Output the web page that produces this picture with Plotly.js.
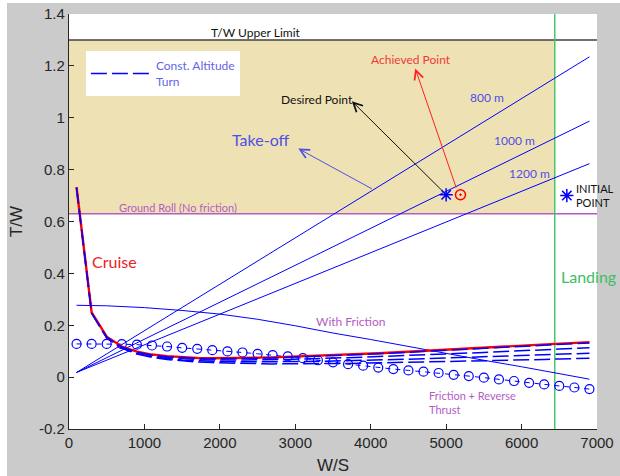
<!DOCTYPE html>
<html>
<head>
<meta charset="utf-8">
<script src="https://cdn.plot.ly/plotly-3.0.1.min.js"></script>
<style>
  html, body { margin: 0; padding: 0; background: #ffffff; overflow: hidden; }
  #chart { position: absolute; left: 7px; top: 3px; width: 613px; height: 473px; }
</style>
</head>
<body>
<div id="chart"></div>
<script>
// Wing loading grid shared by the cruise, turn and landing-roll curves
const wsGrid = [100, 300, 500, 700, 900, 1100, 1300, 1500, 1700, 1900, 2100, 2300, 2500, 2700, 2900,
  3100, 3300, 3500, 3700, 3900, 4100, 4300, 4500, 4700, 4900, 5100, 5300, 5500, 5700, 5900,
  6100, 6300, 6500, 6700, 6900];

// Cruise constraint
const cruiseTW = [0.732, 0.250, 0.156, 0.118, 0.098, 0.087, 0.081, 0.077, 0.074, 0.073, 0.073, 0.074,
  0.075, 0.076, 0.078, 0.080, 0.082, 0.085, 0.087, 0.090, 0.092, 0.095, 0.098, 0.101, 0.104, 0.107,
  0.110, 0.113, 0.116, 0.119, 0.122, 0.125, 0.129, 0.132, 0.135];

// Constant altitude turn, one curve per load factor
const turnTW1 = [0.730, 0.247, 0.154, 0.116, 0.096, 0.085, 0.079, 0.075, 0.072, 0.071, 0.071, 0.072,
  0.073, 0.074, 0.076, 0.078, 0.080, 0.083, 0.085, 0.088, 0.090, 0.093, 0.096, 0.099, 0.102, 0.105,
  0.108, 0.111, 0.114, 0.117, 0.120, 0.123, 0.126, 0.129, 0.132];
const turnTW2 = [0.731, 0.248, 0.153, 0.115, 0.095, 0.083, 0.076, 0.071, 0.068, 0.067, 0.066, 0.066,
  0.067, 0.067, 0.068, 0.070, 0.071, 0.073, 0.075, 0.077, 0.079, 0.081, 0.083, 0.086, 0.088, 0.090,
  0.093, 0.095, 0.098, 0.100, 0.103, 0.106, 0.108, 0.111, 0.113];
const turnTW3 = [0.731, 0.247, 0.152, 0.113, 0.092, 0.079, 0.072, 0.066, 0.063, 0.061, 0.060, 0.059,
  0.059, 0.059, 0.059, 0.060, 0.061, 0.062, 0.063, 0.065, 0.066, 0.068, 0.069, 0.071, 0.073, 0.075,
  0.076, 0.078, 0.080, 0.082, 0.084, 0.086, 0.088, 0.090, 0.092];
const turnTW4 = [0.731, 0.246, 0.151, 0.111, 0.089, 0.076, 0.068, 0.062, 0.058, 0.056, 0.054, 0.052,
  0.052, 0.051, 0.051, 0.051, 0.052, 0.052, 0.053, 0.054, 0.055, 0.056, 0.057, 0.058, 0.059, 0.060,
  0.062, 0.063, 0.064, 0.065, 0.067, 0.068, 0.070, 0.071, 0.073];

// Landing roll with friction and reverse thrust
const reverseTW = [0.128, 0.128, 0.128, 0.127, 0.125, 0.122, 0.118, 0.113, 0.109, 0.104, 0.099, 0.095,
  0.090, 0.085, 0.080, 0.073, 0.065, 0.057, 0.050, 0.044, 0.037, 0.031, 0.026, 0.021, 0.016, 0.009,
  0.004, -0.002, -0.009, -0.015, -0.022, -0.028, -0.034, -0.040, -0.046];

// Landing roll with friction only
const frictionWS = [100, 500, 1000, 1500, 2000, 2500, 3000, 3500, 4000, 4500, 5000, 5500, 6000, 6500, 6900];
const frictionTW = [0.277, 0.275, 0.268, 0.257, 0.243, 0.223, 0.198, 0.170, 0.145, 0.118, 0.092, 0.065,
  0.040, 0.014, -0.008];

// Take-off field length lines
const takeoffWS = [100, 6900];
const takeoff800 = [0.018, 1.235];
const takeoff1000 = [0.018, 0.987];
const takeoff1200 = [0.018, 0.823];

// Limits
const upperLimitTW = 1.3;
const groundRollTW = 0.63;
const landingWS = 6440;
const wsSpan = [0, 7000];
const twSpan = [-0.2, 1.4];

// Design points
const desiredPoint = { ws: [5000], tw: [0.703] };
const achievedPoint = { ws: [5190], tw: [0.703] };
const initialPoint = { ws: [6600], tw: [0.700] };

// Axis ticks
const xTickVals = [0, 1000, 2000, 3000, 4000, 5000, 6000, 7000];
const xTickText = ['0', '1000', '2000', '3000', '4000', '5000', '6000', '7000'];
const yTickVals = [-0.2, 0, 0.2, 0.4, 0.6, 0.8, 1, 1.2, 1.4];
const yTickText = ['-0.2', '0', '0.2', '0.4', '0.6', '0.8', '1', '1.2', '1.4'];

const BLUE = '#0000ff';
const PURPLE = '#b45cc4';
const TEXT_BLUE = '#4f4fe6';
const LABEL_FONT = 'Lato, "Open Sans", sans-serif';
const AXIS_FONT = '"Liberation Sans", Arial, sans-serif';
const dashPattern = '16px,5px';

const line = (x, y, color, width, extra) => Object.assign({
  x: x, y: y, type: 'scatter', mode: 'lines',
  line: { color: color, width: width }, showlegend: false, hoverinfo: 'skip'
}, extra || {});

const starMarker = { symbol: 'asterisk-open', size: 11, color: BLUE, line: { color: BLUE, width: 1.5 } };

const traces = [
  // feasible design region
  {
    x: [wsSpan[0], landingWS, landingWS, wsSpan[0], wsSpan[0]],
    y: [groundRollTW, groundRollTW, upperLimitTW, upperLimitTW, groundRollTW],
    type: 'scatter', mode: 'lines', fill: 'toself', fillcolor: '#eee2b4',
    line: { width: 0 }, showlegend: false, hoverinfo: 'skip'
  },
  line(wsSpan, [upperLimitTW, upperLimitTW], '#404040', 1.6),
  line(wsSpan, [groundRollTW, groundRollTW], PURPLE, 1.4),
  line([landingWS, landingWS], twSpan, '#3cc464', 1.4),
  line(takeoffWS, takeoff800, BLUE, 1),
  line(takeoffWS, takeoff1000, BLUE, 1),
  line(takeoffWS, takeoff1200, BLUE, 1),
  line(frictionWS, frictionTW, BLUE, 1),
  line(wsGrid, reverseTW, BLUE, 1, {
    mode: 'lines+markers',
    line: { color: BLUE, width: 1, dash: '5px,5px' },
    marker: { symbol: 'circle-open', size: 9, color: BLUE, line: { width: 1.2, color: BLUE } }
  }),
  line(wsGrid, turnTW4, BLUE, 1.5, { line: { color: BLUE, width: 1.5, dash: dashPattern } }),
  line(wsGrid, turnTW3, BLUE, 1.5, { line: { color: BLUE, width: 1.5, dash: dashPattern } }),
  line(wsGrid, turnTW2, BLUE, 1.5, { line: { color: BLUE, width: 1.5, dash: dashPattern } }),
  line(wsGrid, cruiseTW, '#ff0000', 2.4),
  line(wsGrid, turnTW1, BLUE, 1.5, {
    line: { color: BLUE, width: 1.5, dash: dashPattern },
    name: 'Const. Altitude<br>Turn', showlegend: true
  }),
  {
    x: desiredPoint.ws, y: desiredPoint.tw, type: 'scatter', mode: 'markers',
    marker: starMarker, showlegend: false, hoverinfo: 'skip'
  },
  {
    x: achievedPoint.ws, y: achievedPoint.tw, type: 'scatter', mode: 'markers',
    marker: { symbol: 'circle-open-dot', size: 10, color: '#ff0000', line: { color: '#ff0000', width: 1.5 } },
    showlegend: false, hoverinfo: 'skip'
  },
  {
    x: initialPoint.ws, y: initialPoint.tw, type: 'scatter', mode: 'markers',
    marker: starMarker, showlegend: false, hoverinfo: 'skip'
  }
];

const label = (text, x, y, color, size, extra) => Object.assign({
  text: text, x: x, y: y, xref: 'x', yref: 'y', showarrow: false,
  font: { family: LABEL_FONT, size: size, color: color }
}, extra || {});

const arrow = (headX, headY, tailX, tailY, color) => ({
  x: headX, y: headY, ax: tailX, ay: tailY, xref: 'x', yref: 'y', axref: 'x', ayref: 'y',
  text: '', showarrow: true, arrowhead: 5, arrowsize: 1.8, arrowwidth: 1,
  arrowcolor: color, standoff: 0, startstandoff: 0
});

const annotations = [
  label('T/W Upper Limit', 2480, 1.327, '#111111', 12),
  label('Ground Roll (No friction)', 1440, 0.655, PURPLE, 11),
  label('Take-off', 2545, 0.918, TEXT_BLUE, 16),
  label('800 m', 5535, 1.077, TEXT_BLUE, 12),
  label('1000 m', 5910, 0.912, TEXT_BLUE, 12),
  label('1200 m', 6110, 0.784, TEXT_BLUE, 12),
  label('Desired Point', 3282, 1.070, '#111111', 12),
  label('Achieved Point', 4540, 1.225, '#f0383c', 12),
  label('INITIAL<br>POINT', 6700, 0.702, '#111111', 11, { xanchor: 'left', align: 'left' }),
  label('Cruise', 608, 0.445, '#f02020', 16),
  label('Landing', 6885, 0.389, '#3cc064', 16),
  label('With Friction', 3730, 0.214, PURPLE, 12),
  label('Friction + Reverse<br>Thrust', 4744, -0.097, PURPLE, 11, { xanchor: 'left', align: 'left' }),
  arrow(3040, 0.881, 4035, 0.723, TEXT_BLUE),
  arrow(3750, 1.064, 4960, 0.715, '#111111'),
  arrow(4590, 1.190, 5140, 0.725, '#ff2020')
];

const axisCommon = {
  showline: true, linecolor: '#262626', linewidth: 1.2,
  ticks: 'inside', ticklen: 5, tickcolor: '#262626', tickwidth: 1,
  showgrid: false, zeroline: false, fixedrange: true,
  tickfont: { family: AXIS_FONT, size: 15, color: '#262626' }
};

const layout = {
  width: 613, height: 473,
  margin: { l: 62, r: 23, t: 11, b: 47, pad: 0 },
  paper_bgcolor: '#cbcbcb',
  plot_bgcolor: '#ffffff',
  showlegend: true,
  legend: {
    x: 0.032, y: 0.91, xanchor: 'left', yanchor: 'top',
    bgcolor: '#ffffff', borderwidth: 0, itemwidth: 60,
    font: { family: LABEL_FONT, size: 12, color: '#6464e6' }
  },
  xaxis: Object.assign({}, axisCommon, {
    range: wsSpan, tickvals: xTickVals, ticktext: xTickText,
    title: { text: 'W/S', standoff: 8, font: { family: AXIS_FONT, size: 17, color: '#262626' } }
  }),
  yaxis: Object.assign({}, axisCommon, {
    range: twSpan, tickvals: yTickVals, ticktext: yTickText,
    title: { text: 'T/W', standoff: 12, font: { family: AXIS_FONT, size: 17, color: '#262626' } }
  }),
  annotations: annotations
};

Plotly.newPlot('chart', traces, layout, { staticPlot: true, displayModeBar: false });
</script>
</body>
</html>
